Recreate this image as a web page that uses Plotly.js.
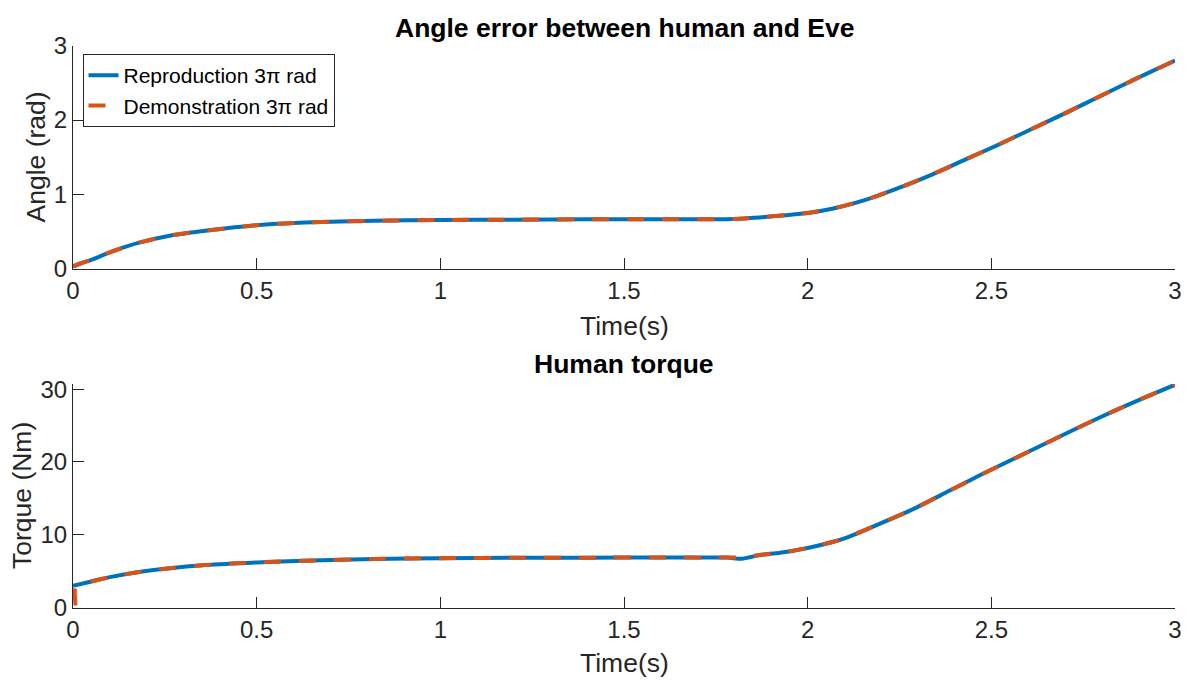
<!DOCTYPE html>
<html>
<head>
<meta charset="utf-8">
<script src="https://cdn.plot.ly/plotly-3.0.1.min.js"></script>
<style>
  html, body { margin: 0; padding: 0; background: #fff; overflow: hidden; }
  #chart { width: 1187px; height: 680px; }
</style>
</head>
<body>
<div id="chart"></div>
<script>
// Angle error between human and Eve (rad) over time (s)
const tAngle = [0, 0.02, 0.05, 0.1, 0.18, 0.27, 0.36, 0.5, 0.63, 0.82, 1.0, 1.2, 1.4, 1.6, 1.8, 1.87, 1.94, 2.0, 2.07, 2.16, 2.25, 2.34, 2.43, 2.52, 2.61, 2.7, 2.8, 2.9, 3.0];
const angleReproduction = [0.03, 0.07, 0.12, 0.22, 0.35, 0.45, 0.51, 0.585, 0.62, 0.645, 0.655, 0.66, 0.665, 0.665, 0.668, 0.69, 0.72, 0.75, 0.81, 0.93, 1.09, 1.27, 1.47, 1.67, 1.88, 2.09, 2.33, 2.57, 2.80];
const angleDemonstration = [0.03, 0.07, 0.12, 0.22, 0.35, 0.45, 0.51, 0.585, 0.62, 0.645, 0.655, 0.66, 0.665, 0.665, 0.668, 0.69, 0.72, 0.75, 0.81, 0.93, 1.09, 1.27, 1.47, 1.67, 1.88, 2.09, 2.33, 2.57, 2.80];

// Human torque (Nm) over time (s)
const tTorqueReproduction = [0, 0.05, 0.1, 0.18, 0.27, 0.36, 0.5, 0.63, 0.82, 1.0, 1.2, 1.4, 1.6, 1.78, 1.82, 1.87, 1.925, 2.0, 2.07, 2.11, 2.2, 2.29, 2.38, 2.47, 2.56, 2.65, 2.74, 2.83, 2.92, 3.0];
const torqueReproduction = [3.0, 3.6, 4.2, 4.9, 5.45, 5.85, 6.22, 6.45, 6.68, 6.8, 6.85, 6.87, 6.88, 6.88, 6.72, 7.23, 7.54, 8.2, 9.05, 9.7, 11.6, 13.6, 15.9, 18.2, 20.4, 22.6, 24.8, 26.9, 28.9, 30.6];
const tTorqueDemonstration = [0.007, 0.008, 0.05, 0.1, 0.18, 0.27, 0.36, 0.5, 0.63, 0.82, 1.0, 1.2, 1.4, 1.6, 1.78, 1.83, 1.87, 1.925, 2.0, 2.07, 2.11, 2.2, 2.29, 2.38, 2.47, 2.56, 2.65, 2.74, 2.83, 2.92, 3.0];
const torqueDemonstration = [0.3, 3.0, 3.6, 4.2, 4.9, 5.45, 5.85, 6.22, 6.45, 6.68, 6.8, 6.85, 6.87, 6.88, 6.88, 6.95, 7.23, 7.54, 8.2, 9.05, 9.7, 11.6, 13.6, 15.9, 18.2, 20.4, 22.6, 24.8, 26.9, 28.9, 30.6];

// Axis ticks
const timeTicks = [0, 0.5, 1, 1.5, 2, 2.5, 3];
const timeTickText = ['0', '0.5', '1', '1.5', '2', '2.5', '3'];
const angleTicks = [0, 1, 2, 3];
const torqueTicks = [0, 10, 20, 30];

const seriesNames = ['Reproduction 3π rad', 'Demonstration 3π rad'];

const BLUE = '#0072BD';
const ORANGE = '#D95319';
const AXIS = '#262626';
const FONT = 'Liberation Sans, Arial, Helvetica, sans-serif';

const solid = { color: BLUE, width: 4, shape: 'spline', smoothing: 0.7 };
const dashed = { color: ORANGE, width: 4, dash: '17px,18px', shape: 'spline', smoothing: 0.7 };

const traces = [
  { x: tAngle, y: angleReproduction, xaxis: 'x', yaxis: 'y', mode: 'lines', name: seriesNames[0],
    legendgroup: 'rep', line: solid },
  { x: tAngle, y: angleDemonstration, xaxis: 'x', yaxis: 'y', mode: 'lines', name: seriesNames[1],
    legendgroup: 'rep', line: dashed },
  { x: tTorqueReproduction, y: torqueReproduction, xaxis: 'x2', yaxis: 'y2', mode: 'lines', name: seriesNames[0],
    showlegend: false, line: solid },
  { x: tTorqueDemonstration, y: torqueDemonstration, xaxis: 'x2', yaxis: 'y2', mode: 'lines', name: seriesNames[1],
    showlegend: false, line: dashed }
];

const xDomain = [73 / 1187, 1175 / 1187];

function timeAxis(anchor) {
  return {
    domain: xDomain, anchor: anchor, range: [0, 3],
    tickmode: 'array', tickvals: timeTicks, ticktext: timeTickText,
    ticks: 'inside', ticklen: 11, tickwidth: 1, tickcolor: AXIS,
    showline: true, linecolor: AXIS, linewidth: 1, mirror: false,
    showgrid: false, zeroline: false, fixedrange: true,
    tickfont: { family: FONT, size: 24, color: AXIS }
  };
}

function valueAxis(anchor, domain, range, ticks) {
  return {
    domain: domain, anchor: anchor, range: range,
    tickmode: 'array', tickvals: ticks,
    ticks: 'inside', ticklen: 11, tickwidth: 1, tickcolor: AXIS,
    showline: true, linecolor: AXIS, linewidth: 1, mirror: false,
    showgrid: false, zeroline: false, fixedrange: true,
    tickfont: { family: FONT, size: 24, color: AXIS }
  };
}

function label(text, x, y, opts) {
  return Object.assign({
    text: text, xref: 'paper', yref: 'paper', x: x, y: y,
    xanchor: 'center', yanchor: 'middle', showarrow: false,
    font: { family: FONT, size: 26.5, color: AXIS }
  }, opts || {});
}

const layout = {
  width: 1187, height: 680,
  margin: { l: 0, r: 0, t: 0, b: 0 },
  paper_bgcolor: '#fff', plot_bgcolor: '#fff',
  showlegend: true,
  legend: {
    x: 82.5 / 1187, y: 1 - 54 / 680, xanchor: 'left', yanchor: 'top',
    bgcolor: '#fff', bordercolor: AXIS, borderwidth: 1,
    font: { family: FONT, size: 21, color: '#000' },
    tracegroupgap: 0
  },
  xaxis: timeAxis('y'),
  yaxis: valueAxis('x', [1 - 268.7 / 680, 1 - 45.7 / 680], [0, 3], angleTicks),
  xaxis2: timeAxis('y2'),
  yaxis2: valueAxis('x2', [1 - 607.7 / 680, 1 - 384 / 680], [0, 30.7], torqueTicks),
  annotations: [
    label('<b>Angle error between human and Eve</b>', 624 / 1187, 1 - 28 / 680, { font: { family: FONT, size: 26.5, color: '#000' } }),
    label('<b>Human torque</b>', 624 / 1187, 1 - 364 / 680, { font: { family: FONT, size: 26.5, color: '#000' } }),
    label('Time(s)', 624 / 1187, 1 - 326 / 680),
    label('Time(s)', 624 / 1187, 1 - 663 / 680),
    label('Angle (rad)', 35 / 1187, 1 - 157.5 / 680, { textangle: -90 }),
    label('Torque (Nm)', 22 / 1187, 1 - 496 / 680, { textangle: -90 })
  ]
};

Plotly.newPlot('chart', traces, layout, { displayModeBar: false, staticPlot: true });
</script>
</body>
</html>
